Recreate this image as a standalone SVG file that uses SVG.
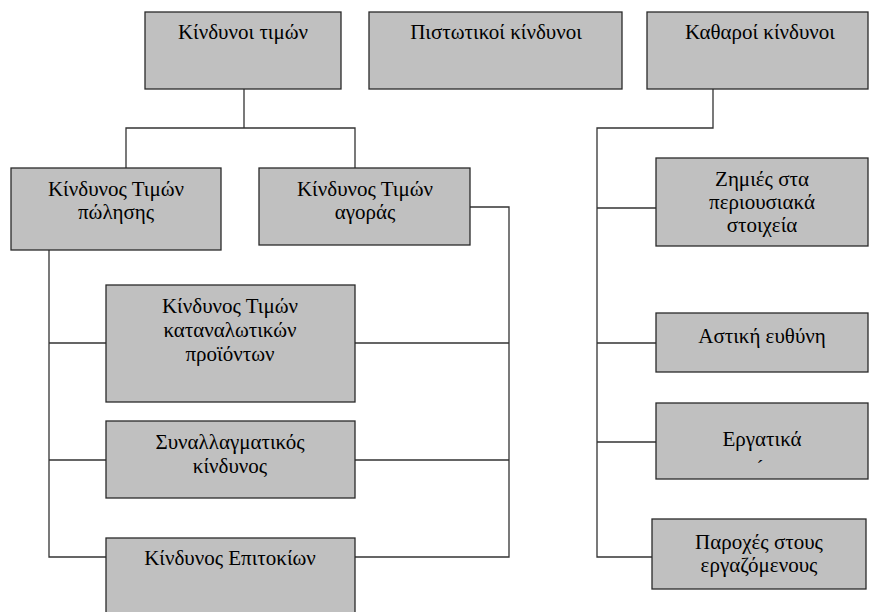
<svg xmlns="http://www.w3.org/2000/svg" width="871" height="612" viewBox="0 0 871 612">
<style>
.box{fill:#c0c0c0;stroke:#2a2a2a;stroke-width:1.3}
.con{fill:none;stroke:#333;stroke-width:1.3}
</style>
<rect width="871" height="612" fill="#fff"/>
<g id="connectors">
<path class="con" d="M244 89V128M126 168V128H355V168"/>
<path class="con" d="M49 250V557H106M49 343H106M49 460H106"/>
<path class="con" d="M470 207H509V557H355M355 343H509M355 460H509"/>
<path class="con" d="M713 89V128H597V557H652M597 208H656M597 343H656M597 442H656"/>
</g>
<g id="n1"><rect class="box" x="145" y="12" width="196" height="77"/><text font-family="Liberation Serif" font-size="21" text-anchor="middle" x="243" y="39">Κίνδυνοι τιμών</text></g>
<g id="n2"><rect class="box" x="369" y="12" width="253" height="77"/><text font-family="Liberation Serif" font-size="21" text-anchor="middle" x="496" y="39">Πιστωτικοί κίνδυνοι</text></g>
<g id="n3"><rect class="box" x="647" y="12" width="221" height="77"/><text font-family="Liberation Serif" font-size="21" text-anchor="middle" x="760" y="39">Καθαροί κίνδυνοι</text></g>
<g id="n4"><rect class="box" x="11" y="168" width="210" height="82"/><text font-family="Liberation Serif" font-size="21" text-anchor="middle" x="116" y="196">Κίνδυνος Τιμών</text><text font-family="Liberation Serif" font-size="21" text-anchor="middle" x="116" y="219">πώλησης</text></g>
<g id="n5"><rect class="box" x="259" y="168" width="211" height="77"/><text font-family="Liberation Serif" font-size="21" text-anchor="middle" x="365" y="196">Κίνδυνος Τιμών</text><text font-family="Liberation Serif" font-size="21" text-anchor="middle" x="365" y="219">αγοράς</text></g>
<g id="n6"><rect class="box" x="106" y="285" width="249" height="117"/><text font-family="Liberation Serif" font-size="21" text-anchor="middle" x="230" y="313">Κίνδυνος Τιμών</text><text font-family="Liberation Serif" font-size="21" text-anchor="middle" x="230" y="337">καταναλωτικών</text><text font-family="Liberation Serif" font-size="21" text-anchor="middle" x="230" y="361">προϊόντων</text></g>
<g id="n7"><rect class="box" x="106" y="421" width="249" height="77"/><text font-family="Liberation Serif" font-size="21" text-anchor="middle" x="230" y="449">Συναλλαγματικός</text><text font-family="Liberation Serif" font-size="21" text-anchor="middle" x="230" y="473">κίνδυνος</text></g>
<g id="n8"><rect class="box" x="106" y="538" width="249" height="90"/><text font-family="Liberation Serif" font-size="21" text-anchor="middle" x="230" y="565">Κίνδυνος Επιτοκίων</text></g>
<g id="n9"><rect class="box" x="656" y="158" width="212" height="88"/><text font-family="Liberation Serif" font-size="21" text-anchor="middle" x="762" y="186">Ζημιές στα</text><text font-family="Liberation Serif" font-size="21" text-anchor="middle" x="762" y="209">περιουσιακά</text><text font-family="Liberation Serif" font-size="21" text-anchor="middle" x="762" y="232">στοιχεία</text></g>
<g id="n10"><rect class="box" x="656" y="313" width="212" height="59"/><text font-family="Liberation Serif" font-size="21" text-anchor="middle" x="762" y="343">Αστική ευθύνη</text></g>
<g id="n11"><rect class="box" x="656" y="403" width="212" height="76"/><text font-family="Liberation Serif" font-size="21" text-anchor="middle" x="762" y="446">Εργατικά</text><text font-family="Liberation Serif" font-size="21" text-anchor="middle" x="760" y="475">´</text></g>
<g id="n12"><rect class="box" x="652" y="519" width="214" height="70"/><text font-family="Liberation Serif" font-size="21" text-anchor="middle" x="759" y="549">Παροχές στους</text><text font-family="Liberation Serif" font-size="21" text-anchor="middle" x="759" y="572">εργαζόμενους</text></g>
</svg>
